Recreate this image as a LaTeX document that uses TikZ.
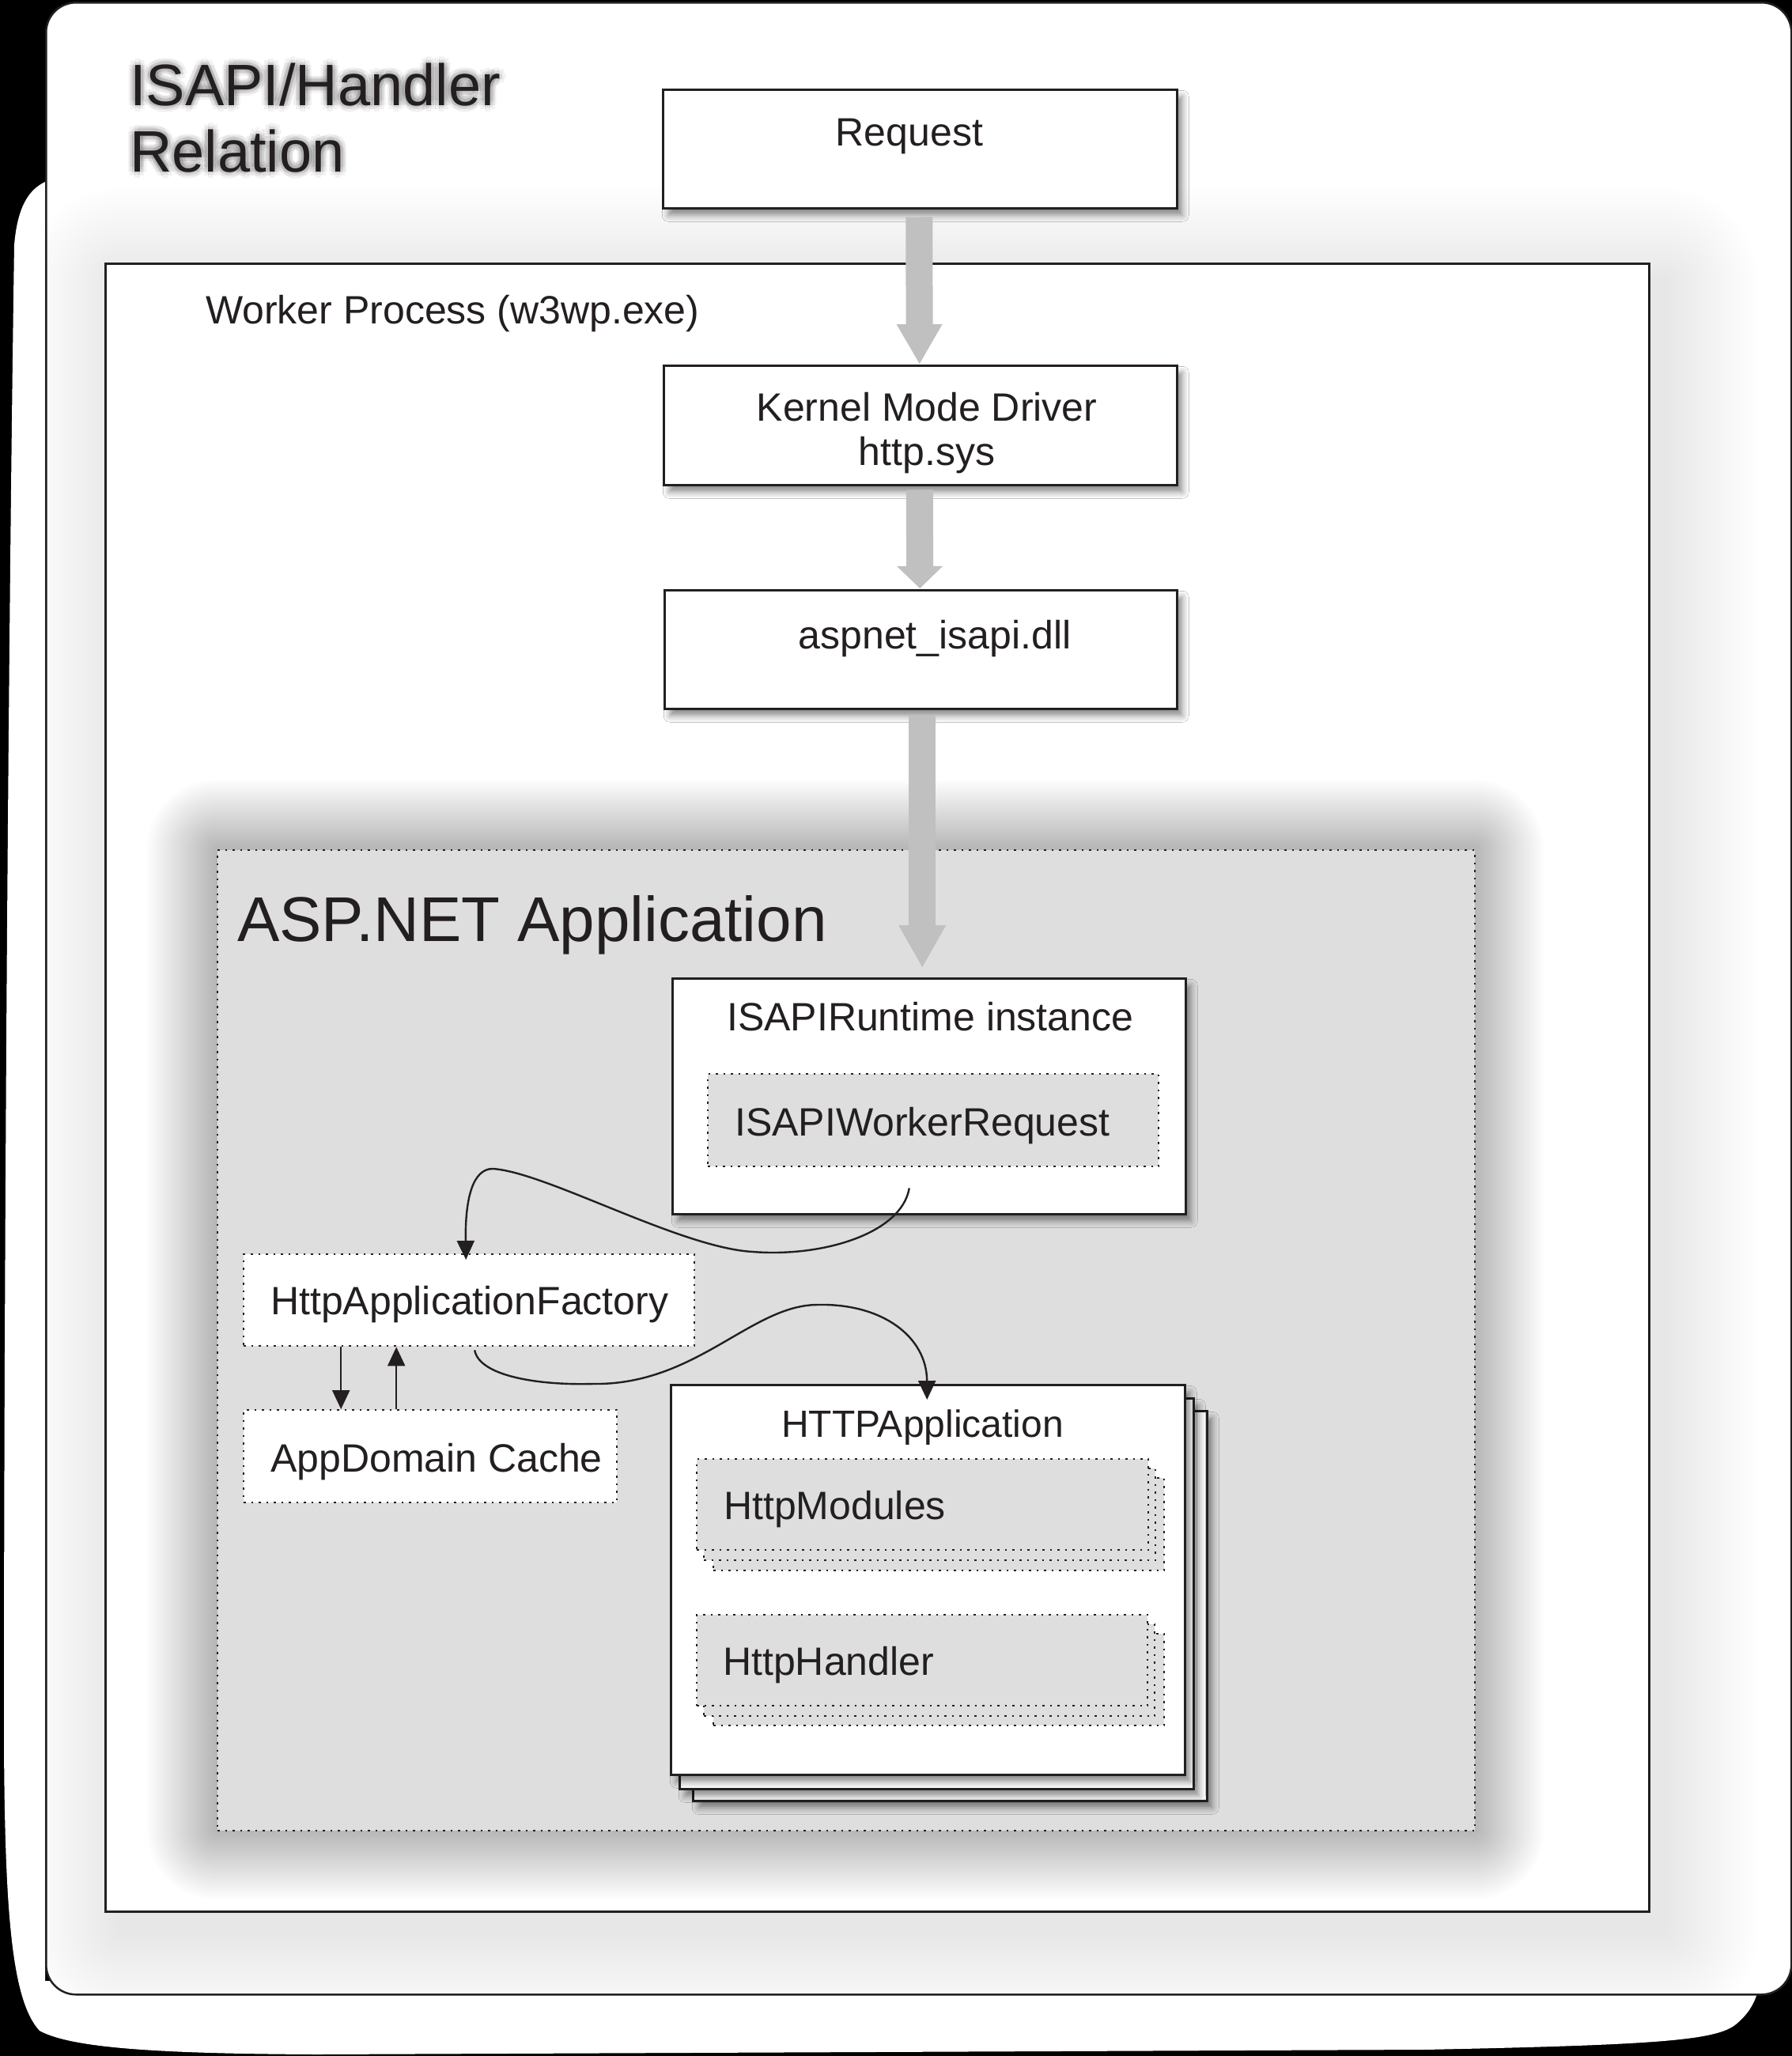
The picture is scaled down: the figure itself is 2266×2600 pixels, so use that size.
\documentclass[tikz,border=0pt]{standalone}
\usepackage{fontspec}
\setmainfont{Liberation Sans}
\usetikzlibrary{shadows.blur,arrows.meta,calc}
\definecolor{ink}{HTML}{231F20}
\definecolor{fatgray}{HTML}{C0C0C0}
\definecolor{boxgray}{HTML}{DEDEDE}
\begin{document}
\begin{tikzpicture}[x=1pt,y=-1pt,
  box/.style={draw=ink, line width=2.5pt, fill=white, inner sep=0pt, anchor=north west, rectangle},
  dshadow/.style={blur shadow={shadow xshift=7pt, shadow yshift=-9pt, shadow blur radius=8pt, shadow opacity=45}},
  dotbox/.style={draw=ink, line width=2.4pt, dash pattern=on 2.4pt off 7.1pt, inner sep=0pt, anchor=north west, rectangle},
  txt/.style={inner sep=0pt, text=ink, font=\fontsize{50}{57}\selectfont},
  glow/.style={inner sep=0pt, anchor=base west, text=black, opacity=0.05, font=\fontsize{74}{84}\selectfont},
  fat/.style={draw=fatgray, line width=34pt},
  thin/.style={draw=ink, line width=2.4pt, -{Triangle[length=24pt,width=22pt]}}
]
\useasboundingbox (0,0) rectangle (2266,2600);
\fill[black] (0,0) rectangle (2266,2600);
% white halo shape behind the panel
\fill[white] (57,230) .. controls (36,240) and (22,262) .. (18,310)
  .. controls (12,700) and (5,1500) .. (5,2200)
  .. controls (6,2420) and (15,2530) .. (50,2568)
  .. controls (90,2590) and (200,2597) .. (400,2598)
  -- (1800,2592) .. controls (2100,2586) and (2170,2580) .. (2195,2560)
  .. controls (2213,2545) and (2221,2530) .. (2226,2505) -- (57,2505) -- cycle;
% panel
\node[draw=ink, fill=white, rounded corners=38pt, line width=2.5pt, inner sep=0pt,
      minimum width=2207pt, minimum height=2519pt, anchor=north west] (panel) at (57,2) {};
% soft shadow of the worker process box
\begin{scope}
  \clip[rounded corners=38pt] (58,3) rectangle (2263,2520);
  \foreach \i in {1,...,24}{
    \pgfmathsetmacro\d{120*\i/24}
    \fill[black, opacity=0.0058, rounded corners=\d pt] (152-\d,357-\d) rectangle (2104+\d,2441+\d);
  }
\end{scope}
% worker process box
\node[box, minimum width=1952pt, minimum height=2084pt] (worker) at (132,332) {};
% title with glow
\foreach \ang in {0,45,...,315}{
  \foreach \r in {4,8}{
    \node[glow] (ga-\ang-\r) at ($(164,133)+(\ang:\r)$) {ISAPI/Handler};
    \node[glow] (gb-\ang-\r) at ($(164,217)+(\ang:\r)$) {Relation};
  }
}
\node[txt, anchor=base west, font=\fontsize{74}{84}\selectfont] (t1) at (164,133) {ISAPI/Handler};
\node[txt, anchor=base west, font=\fontsize{74}{84}\selectfont] (t2) at (164,217) {Relation};
\node[txt, anchor=base west] (wtext) at (260,409) {Worker Process (w3wp.exe)};
% top boxes
\node[box, dshadow, minimum width=650pt, minimum height=150pt] (req) at (837,112) {};
\node[box, dshadow, minimum width=649pt, minimum height=151pt] (kern) at (838,461) {};
\node[box, dshadow, minimum width=648pt, minimum height=150pt] (dll) at (839,745) {};
\node[txt, anchor=base] (reqtext) at (1150,184) {Request};
\node[txt, anchor=base] (kerntext) at (1172,532) {Kernel Mode Driver};
\node[txt, anchor=base] (systext) at (1172,588) {http.sys};
\node[txt, anchor=base] (dlltext) at (1182,820) {aspnet\_isapi.dll};
% soft shadow of the ASP.NET application box
\foreach \i in {1,...,24}{
  \pgfmathsetmacro\d{88*\i/24}
  \fill[black, opacity=0.0100, rounded corners=\d pt] (274-\d,1074-\d) rectangle (1864+\d,2314+\d);
}
% ASP.NET application
\node[dotbox, fill=boxgray, minimum width=1590pt, minimum height=1240pt] (asp) at (274,1074) {};
\node[txt, anchor=base west, font=\fontsize{80}{92}\selectfont] (asptext) at (300,1190) {ASP.NET Application};
% ISAPIRuntime
\node[box, dshadow, minimum width=649pt, minimum height=298pt] (rt) at (849,1236) {};
\node[dotbox, fill=boxgray, minimum width=570pt, minimum height=117pt] (wr) at (894,1357) {};
\node[txt, anchor=base west] (rttext) at (919,1303) {ISAPIRuntime instance};
\node[txt, anchor=base west] (wrtext) at (929,1436) {ISAPIWorkerRequest};
% factory and cache
\node[dotbox, fill=white, minimum width=570pt, minimum height=116pt] (fac) at (307,1585) {};
\node[dotbox, fill=white, minimum width=472pt, minimum height=117pt] (adc) at (307,1782) {};
\node[txt, anchor=base west] (factext) at (342,1662) {HttpApplicationFactory};
\node[txt, anchor=base west] (adctext) at (342,1861) {AppDomain Cache};
% HTTPApplication stack
\node[box, dshadow, minimum width=650pt, minimum height=493pt] (app3) at (875,1783) {};
\node[box, dshadow, minimum width=650pt, minimum height=494pt] (app2) at (858,1767) {};
\node[box, dshadow, minimum width=650pt, minimum height=493pt] (app1) at (847,1750) {};
\node[txt, anchor=base west, font=\fontsize{48}{55}\selectfont] (apptext) at (988,1817) {HTTPApplication};
\node[dotbox, fill=boxgray, minimum width=570pt, minimum height=117pt] (mod3) at (901,1868) {};
\node[dotbox, fill=boxgray, minimum width=571pt, minimum height=116pt] (mod2) at (889,1856) {};
\node[dotbox, fill=boxgray, minimum width=571pt, minimum height=115pt] (mod1) at (880,1844) {};
\node[txt, anchor=base west] (modtext) at (915,1921) {HttpModules};
\node[dotbox, fill=boxgray, minimum width=570pt, minimum height=116pt] (hnd3) at (901,2065) {};
\node[dotbox, fill=boxgray, minimum width=570pt, minimum height=116pt] (hnd2) at (889,2053) {};
\node[dotbox, fill=boxgray, minimum width=570pt, minimum height=115pt] (hnd1) at (880,2041) {};
\node[txt, anchor=base west] (hndtext) at (914,2118) {HttpHandler};
% fat gray arrows
\draw[fat, -{Triangle[length=50pt,width=58pt,line width=0pt]}] ($(req.south)+(-1,10)$) -- ($(kern.north)+(-1,-1)$);
\draw[fat, -{Triangle[length=28pt,width=58pt,line width=0pt]}] ($(kern.south)+(-1,5)$) -- ($(dll.north)+(-1,-1)$);
\draw[fat, -{Triangle[length=53pt,width=60pt,line width=0pt]}] ($(dll.south)+(2,6)$) -- ($(dll.south |- rt.north)+(2,-13)$);
% thin arrows
\draw[thin] ($(rt.south)+(-25,-34)$) .. controls (1140,1560) and (1040,1590) .. (952,1583)
  .. controls (860,1578) and (690,1482) .. (623,1478)
  .. controls (598,1478) and (588,1515) .. ($(fac.north)+(-4,8)$);
\draw[thin] ($(fac.south)+(7,4)$) .. controls (606,1740) and (680,1752) .. (750,1750)
  .. controls (880,1752) and (950,1650) .. (1034,1650)
  .. controls (1115,1648) and (1172,1690) .. ($(app1.north)+(-1,20)$);
\draw[thin] ([xshift=-162pt]fac.south) -- ([xshift=-113pt]adc.north);
\draw[thin] ([xshift=-43pt]adc.north) -- ([xshift=-92pt]fac.south);
\end{tikzpicture}
\end{document}
